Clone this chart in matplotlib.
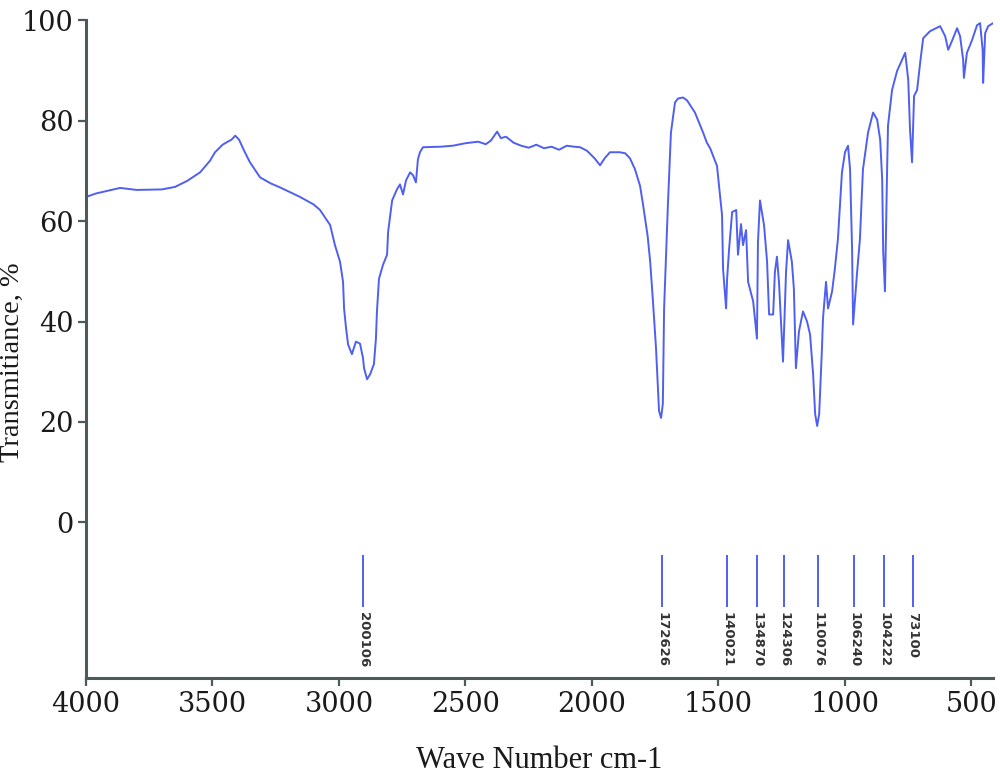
import matplotlib
matplotlib.use("Agg")
import matplotlib.pyplot as plt

# FTIR spectrum (wave number cm-1, transmittance %)
wavenumber = [4000, 3960, 3900, 3865, 3800, 3700, 3648, 3600, 3549, 3510, 3490, 3460,
              3440, 3425, 3410, 3395, 3375, 3352, 3312, 3270, 3233, 3154, 3100, 3075,
              3035, 3016, 2996, 2984, 2980, 2972, 2964, 2949, 2933, 2917, 2905, 2901,
              2889, 2877, 2862, 2854, 2850, 2842, 2826, 2810, 2806, 2790, 2771, 2759,
              2747, 2735, 2719, 2707, 2696, 2688, 2680, 2668, 2600, 2550, 2500, 2450,
              2420, 2400, 2375, 2360, 2340, 2310, 2280, 2250, 2220, 2190, 2160, 2130,
              2100, 2070, 2047, 2020, 1990, 1968, 1950, 1929, 1890, 1869, 1850, 1830,
              1810, 1798, 1780, 1770, 1759, 1747, 1735, 1727, 1720, 1715, 1707, 1700,
              1688, 1672, 1660, 1640, 1624, 1593, 1560, 1546, 1533, 1506, 1486, 1482,
              1470, 1466, 1458, 1446, 1430, 1423, 1411, 1403, 1391, 1383, 1363, 1348,
              1344, 1336, 1320, 1308, 1300, 1284, 1277, 1269, 1261, 1245, 1233, 1225,
              1210, 1202, 1194, 1182, 1166, 1150, 1138, 1126, 1118, 1110, 1102, 1091,
              1087, 1075, 1067, 1051, 1040, 1028, 1012, 1000, 988, 980, 972, 968,
              952, 941, 929, 909, 889, 873, 861, 853, 849, 842, 834, 830,
              814, 794, 762, 750, 743, 735, 727, 715, 703, 691, 664, 624,
              604, 592, 576, 557, 545, 533, 530, 518, 498, 478, 466, 456,
              454, 446, 434, 415]
transmittance = [64.8, 65.5, 66.2, 66.6, 66.2, 66.3, 66.8, 68.0, 69.7, 72.0, 73.7, 75.2,
                 75.8, 76.2, 77.0, 76.2, 74.0, 71.7, 68.7, 67.5, 66.7, 64.8, 63.3, 62.2,
                 59.2, 55.2, 51.9, 47.9, 42.6, 38.6, 35.4, 33.5, 36.0, 35.6, 32.7, 30.7,
                 28.5, 29.5, 31.5, 36.6, 42.0, 48.5, 51.3, 53.3, 57.8, 64.1, 66.3, 67.3,
                 65.3, 68.1, 69.7, 69.1, 67.7, 72.3, 73.7, 74.7, 74.8, 75.0, 75.5, 75.8,
                 75.3, 76.0, 77.8, 76.5, 76.8, 75.6, 75.0, 74.6, 75.2, 74.5, 74.8, 74.2,
                 75.0, 74.8, 74.7, 74.0, 72.5, 71.1, 72.5, 73.7, 73.7, 73.5, 72.5, 70.3,
                 67.0, 63.2, 57.0, 51.9, 44.0, 34.7, 22.2, 20.8, 23.6, 42.6, 53.9, 63.2,
                 77.6, 83.6, 84.4, 84.6, 84.0, 81.6, 77.5, 75.6, 74.5, 71.0, 61.2, 50.5,
                 42.6, 48.5, 54.5, 61.8, 62.2, 53.3, 59.4, 55.2, 58.2, 47.9, 44.0, 36.6,
                 55.8, 64.1, 59.2, 51.9, 41.4, 41.4, 49.9, 52.9, 47.9, 32.0, 49.9, 56.2,
                 51.9, 46.5, 30.7, 38.0, 42.0, 40.0, 37.4, 29.5, 21.6, 19.2, 21.6, 34.7,
                 40.6, 47.9, 42.6, 46.0, 50.5, 56.4, 69.7, 73.7, 75.0, 70.3, 54.5, 39.4,
                 49.9, 56.4, 70.3, 77.6, 81.6, 80.2, 76.2, 68.3, 53.9, 46.0, 69.1, 79.0,
                 86.1, 89.9, 93.5, 88.1, 78.2, 71.7, 84.9, 86.1, 91.5, 96.4, 97.8, 98.8,
                 96.8, 94.1, 96.0, 98.4, 96.8, 92.1, 88.5, 93.5, 96.0, 99.0, 99.4, 94.1,
                 87.5, 97.4, 98.8, 99.4]

# picked peaks and their (garbled) labels as printed on the original
peak_pos = [2904, 1724, 1467, 1349, 1241, 1108, 964, 845, 732]
peak_labels = ["200106", "172626", "140021", "134870", "124306",
               "110076", "106240", "104222", "73100"]

blue = "#4f5ff0"
axis_gray = "#4d5a5a"

fig = plt.figure(figsize=(10, 7.75), dpi=100)
ax = fig.add_axes([0.086, 0.125, 0.907, 0.849])

ax.plot(wavenumber, transmittance, color=blue, lw=1.4)

# peak markers below the zero line
ax.vlines(peak_pos, -16.8, -6.5, color=blue, lw=1.4)
for pos, lab in zip(peak_pos, peak_labels):
    ax.text(pos, -17.8, lab, rotation=270, ha="center", va="top",
            fontsize=9.5, fontweight="bold", color="#333333",
            family="DejaVu Sans")

ax.set_xlim(4000, 415)
ax.set_ylim(-31, 100)
ax.set_xticks([4000, 3500, 3000, 2500, 2000, 1500, 1000, 500])
ax.set_yticks([0, 20, 40, 60, 80, 100])

for side in ["top", "right"]:
    ax.spines[side].set_visible(False)
for side in ["left", "bottom"]:
    ax.spines[side].set_color(axis_gray)
    ax.spines[side].set_linewidth(2.2)

ax.tick_params(axis="both", direction="out", length=6, width=1.6,
               color=axis_gray, labelsize=19.5, labelcolor="#1a1a1a", pad=3)
for lab in ax.get_xticklabels() + ax.get_yticklabels():
    lab.set_family("DejaVu Serif")

ax.set_xlabel("Wave Number cm-1", family="Liberation Serif", fontsize=22,
              color="#1a1a1a")
ax.set_ylabel("Transmitiance, %", family="Liberation Serif", fontsize=20.5,
              color="#1a1a1a")
ax.xaxis.set_label_coords(0.5, -0.103)
ax.yaxis.set_label_coords(-0.067, 0.48)

fig.savefig("out.png", dpi=100)
